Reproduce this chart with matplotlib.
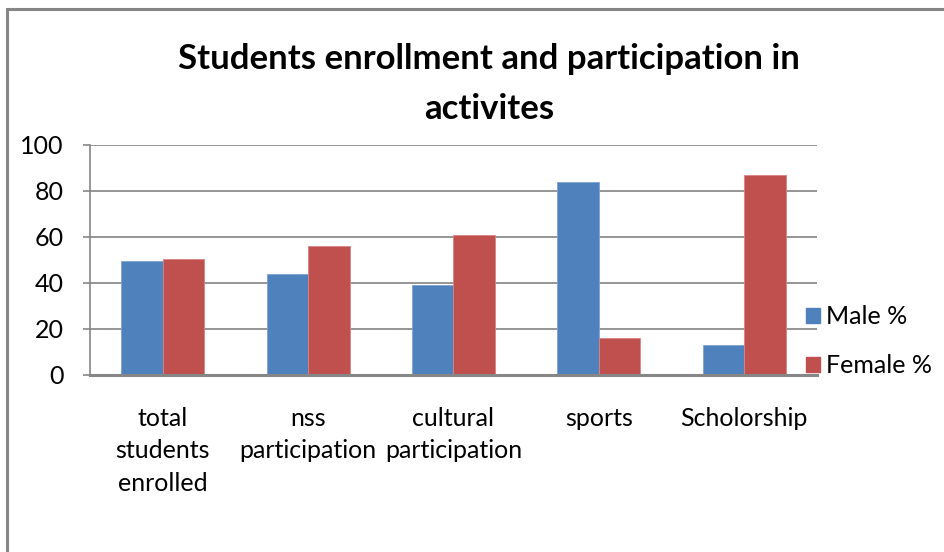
import matplotlib
matplotlib.use("Agg")
import matplotlib.pyplot as plt
import numpy as np
from matplotlib.patches import Rectangle, Patch

# chart data
categories = ["total\nstudents\nenrolled", "nss\nparticipation", "cultural\nparticipation",
              "sports", "Scholorship"]
malePct = [49.5, 44, 39, 84, 13]
femalePct = [50.5, 56, 61, 16, 87]
seriesNames = ["Male %", "Female %"]
yTicks = [0, 20, 40, 60, 80, 100]

blue = "#4F81BD"
red = "#C0504D"
plt.rcParams["font.family"] = ["Lato", "DejaVu Sans"]

fig = plt.figure(figsize=(9.45, 5.52), dpi=100)
W, H = 945.0, 552.0

# outer chart border (only top and left visible in the image)
fig.patches.append(Rectangle((7 / W, -0.1), 1.2, (1 - 9 / H) + 0.1, transform=fig.transFigure,
                             fill=False, edgecolor="#868686", linewidth=2.2))

ax = fig.add_axes([90 / W, 1 - 375 / H, (817 - 90) / W, (375 - 145) / H])
x = np.arange(len(categories))
width = 0.2857
ax.bar(x - width / 2, malePct, width, color=blue, edgecolor="#7EA3D3", linewidth=0.6, zorder=3)
ax.bar(x + width / 2, femalePct, width, color=red, edgecolor="#D98583", linewidth=0.6, zorder=3)

ax.set_xlim(-0.5, len(categories) - 0.5)
ax.set_ylim(0, 100)
ax.set_yticks(yTicks)
ax.set_xticks(x)
ax.set_xticklabels(categories, fontsize=18, linespacing=1.5, va="top")
ax.tick_params(axis="x", length=0, pad=23)
ax.tick_params(axis="y", length=5, width=1.2, color="#868686", labelsize=18, pad=14)
ax.yaxis.grid(True, color="#8C8C8C", linewidth=1.3, zorder=0)
for s in ["top", "right"]:
    ax.spines[s].set_visible(False)
ax.spines["left"].set_color("#868686")
ax.spines["left"].set_linewidth(1.2)
ax.spines["bottom"].set_color("#868686")
ax.spines["bottom"].set_linewidth(2.2)
ax.spines["bottom"].set_zorder(4)

fig.text(489 / W, 1 - 84 / H, "Students enrollment and participation in\nactivites",
         ha="center", va="center", fontsize=25, fontweight="bold", linespacing=1.7)

handles = [Patch(facecolor=blue, edgecolor=blue), Patch(facecolor=red, edgecolor=red)]
fig.legend(handles, seriesNames, loc="center left", bbox_to_anchor=(796 / W, 1 - 341 / H),
           frameon=False, fontsize=18, handlelength=0.55, handleheight=0.55,
           handletextpad=0.25, labelspacing=1.05, borderaxespad=0)

fig.savefig("out.png", dpi=100, facecolor="white")
